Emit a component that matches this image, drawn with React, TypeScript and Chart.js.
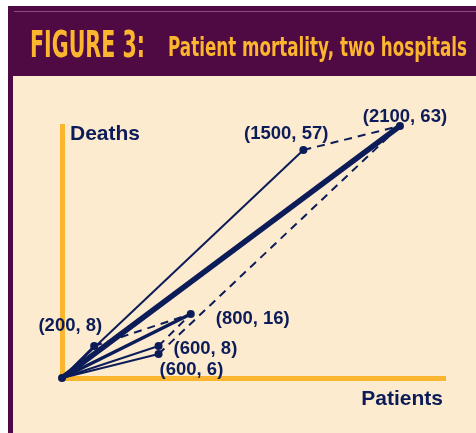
import React, { useEffect, useRef } from 'react';
import { Chart, registerables } from 'chart.js';

Chart.register(...registerables);

// ---- text ----
const titleMain = 'FIGURE 3:';
const titleSub = 'Patient mortality, two hospitals';
const xAxisLabel = 'Patients';
const yAxisLabel = 'Deaths';

// ---- axis ranges ----
const xMax = 2380;
const yMax = 63;

// ---- data: hospital totals ----
const totalPatients = [2100, 800];
const totalDeaths = [63, 16];
// ---- data: sub-groups of hospital A and B ----
const partPatientsA = [1500, 600];
const partDeathsA = [57, 6];
const partPatientsB = [200, 600];
const partDeathsB = [8, 8];

// ---- styles ----
const NAVY = '#0c1c58';
const ORANGE = '#fbb52e';
const PURPLE = '#4f0943';
const PURPLE_LINE = '#8e4b82';
const CREAM = '#fdebd0';

type P = { x: number; y: number };
const origin: P = { x: 0, y: 0 };

const totA: P = { x: totalPatients[0], y: totalDeaths[0] };
const totB: P = { x: totalPatients[1], y: totalDeaths[1] };
const a1: P = { x: partPatientsA[0], y: partDeathsA[0] };
const a2: P = { x: partPatientsA[1], y: partDeathsA[1] };
const b1: P = { x: partPatientsB[0], y: partDeathsB[0] };
const b2: P = { x: partPatientsB[1], y: partDeathsB[1] };

// labelled points and their label placement (style only)
const labelledPoints: P[] = [totA, a1, a2, totB, b1, b2];
const labelPlacement: { align: CanvasTextAlign; dx: number; dy: number }[] = [
  { align: 'center', dx: 5, dy: -4 },
  { align: 'right', dx: 25, dy: -11 },
  { align: 'left', dx: 1, dy: 21 },
  { align: 'left', dx: 25, dy: 10 },
  { align: 'right', dx: 8, dy: -15 },
  { align: 'left', dx: 15, dy: 8 },
];

function seg(p: P, q: P, width: number, dashed: boolean) {
  return {
    type: 'scatter' as const,
    data: [p, q],
    showLine: true,
    borderColor: NAVY,
    backgroundColor: NAVY,
    borderWidth: width,
    borderDash: dashed ? [8, 6] : [],
    pointRadius: 0,
    pointHoverRadius: 0,
    clip: false as any,
  };
}

const framePlugin = {
  id: 'frame',
  beforeDraw(chart: any) {
    const ctx = chart.ctx as CanvasRenderingContext2D;
    const W = chart.width;
    const H = chart.height;
    ctx.save();
    ctx.fillStyle = '#ffffff';
    ctx.fillRect(0, 0, W, H);
    ctx.fillStyle = PURPLE;
    ctx.fillRect(8, 6, W - 8, H - 6);
    ctx.fillStyle = PURPLE_LINE;
    ctx.fillRect(14, 11, W - 14, 1);
    ctx.fillStyle = CREAM;
    ctx.fillRect(13, 76, W - 13, H - 76);

    const squeezed = (text: string, x: number, base: number, size: number, target: number) => {
      ctx.font = `bold ${size}px "DejaVu Sans"`;
      const w = ctx.measureText(text).width;
      ctx.save();
      ctx.translate(x, base);
      ctx.scale(target / w, 1);
      ctx.textAlign = 'left';
      ctx.textBaseline = 'alphabetic';
      ctx.fillStyle = ORANGE;
      ctx.fillText(text, 0, 0);
      ctx.restore();
    };
    squeezed(titleMain, 30, 57, 37, 115);
    squeezed(titleSub, 168, 56, 26, 299);
    ctx.restore();
  },
  afterDatasetsDraw(chart: any) {
    const ctx = chart.ctx as CanvasRenderingContext2D;
    const xs = chart.scales.x;
    const ys = chart.scales.y;
    const area = chart.chartArea;
    ctx.save();
    ctx.fillStyle = NAVY;
    ctx.textBaseline = 'alphabetic';
    ctx.font = 'bold 18.5px "Liberation Sans", Arial, sans-serif';
    labelledPoints.forEach((p, i) => {
      const pl = labelPlacement[i];
      const px = xs.getPixelForValue(p.x);
      const py = ys.getPixelForValue(p.y);
      ctx.textAlign = pl.align;
      ctx.fillText(`(${p.x}, ${p.y})`, px + pl.dx, py + pl.dy);
    });
    ctx.font = 'bold 21px "Liberation Sans", Arial, sans-serif';
    ctx.textAlign = 'left';
    ctx.fillText(yAxisLabel, area.left + 8, area.top + 14);
    ctx.textAlign = 'right';
    ctx.fillText(xAxisLabel, area.right - 2, area.bottom + 27);
    ctx.restore();
  },
};

export default function App() {
  const ref = useRef<HTMLCanvasElement | null>(null);
  useEffect(() => {
    if (!ref.current) return;
    const datasets: any[] = [
      seg(origin, totA, 5.5, false),
      seg(origin, totB, 3.5, false),
      seg(origin, a1, 2, false),
      seg(origin, a2, 2, false),
      seg(origin, b1, 2, false),
      seg(origin, b2, 2, false),
      seg(a1, totA, 2, true),
      seg(a2, totA, 2, true),
      seg(b1, totB, 2, true),
      seg(b2, totB, 2, true),
      {
        type: 'scatter',
        data: [origin, ...labelledPoints],
        showLine: false,
        pointRadius: 4,
        pointHoverRadius: 4,
        pointBackgroundColor: NAVY,
        pointBorderColor: NAVY,
        pointBorderWidth: 0,
        clip: false,
      },
    ];
    const chart = new Chart(ref.current, {
      type: 'scatter',
      data: { datasets },
      options: {
        animation: false,
        responsive: false,
        devicePixelRatio: 1,
        events: [],
        layout: { padding: { left: 62, top: 126, right: 31, bottom: 55 } },
        plugins: { legend: { display: false }, tooltip: { enabled: false }, title: { display: false } },
        scales: {
          x: {
            type: 'linear',
            min: 0,
            max: xMax,
            ticks: { display: false },
            grid: { display: false, drawTicks: false, tickLength: 0 },
            border: { display: true, color: ORANGE, width: 5 },
          },
          y: {
            type: 'linear',
            min: 0,
            max: yMax,
            ticks: { display: false },
            grid: { display: false, drawTicks: false, tickLength: 0 },
            border: { display: true, color: ORANGE, width: 5 },
          },
        },
      } as any,
      plugins: [framePlugin],
    });
    return () => chart.destroy();
  }, []);
  return (
    <div style={{ position: 'absolute', left: 0, top: 0, width: 476, height: 433 }}>
      <canvas ref={ref} width={476} height={433} style={{ display: 'block', width: 476, height: 433 }} />
    </div>
  );
}
